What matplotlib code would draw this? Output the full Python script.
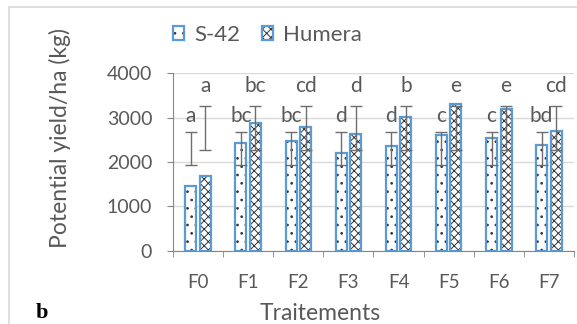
import numpy as np
import matplotlib
matplotlib.use("Agg")
import matplotlib.pyplot as plt
from matplotlib.patches import Rectangle

plt.rcParams['font.family'] = ['Lato', 'DejaVu Sans']
plt.rcParams['hatch.linewidth'] = 0.7

treatments = ['F0', 'F1', 'F2', 'F3', 'F4', 'F5', 'F6', 'F7']
s42 = [1455, 2436, 2466, 2210, 2353, 2602, 2541, 2376]
humera = [1681, 2880, 2790, 2624, 3017, 3318, 3205, 2692]

# error bars in the original sit at the same place for every group
s42_err_lo = [1923] * 8
s42_err_hi = [2677] * 8
humera_err_lo = [2262] * 8
humera_err_hi = [3265] * 8

s42_letters = ['a', 'bc', 'bc', 'd', 'd', 'c', 'c', 'bd']
humera_letters = ['a', 'bc', 'cd', 'd', 'b', 'e', 'e', 'cd']

BLUE = '#5B9BD5'
GREY = '#595959'

fig = plt.figure(figsize=(5.77, 3.24), dpi=100)
ax = fig.add_axes([0.2998, 0.2263, 0.695, 0.5475])

x = np.arange(len(treatments))
w = 0.22
off = 0.145

# hatch drawn in dark grey, blue outline drawn on top
h1 = ax.bar(x - off, s42, w, color='white', edgecolor='#333333', linewidth=0,
            hatch='..', zorder=3)
e1 = ax.bar(x - off, s42, w, fill=False, edgecolor=BLUE, linewidth=1.6, zorder=3.5)
h2 = ax.bar(x + off, humera, w, color='white', edgecolor='#333333', linewidth=0,
            hatch='xxxx', zorder=3)
e2 = ax.bar(x + off, humera, w, fill=False, edgecolor=BLUE, linewidth=1.6, zorder=3.5)

for xs, lo, hi, letters, dy in [(x - off, s42_err_lo, s42_err_hi, s42_letters, 7.5),
                                (x + off, humera_err_lo, humera_err_hi, humera_letters, 10)]:
    lo = np.array(lo)
    hi = np.array(hi)
    mid = (lo + hi) / 2
    ax.errorbar(xs, mid, yerr=(hi - lo) / 2, fmt='none', ecolor='#6E6E6E',
                elinewidth=1, capsize=4, capthick=1, zorder=4)
    for xi, top, lab in zip(xs, hi, letters):
        ax.annotate(lab, (xi, top), xytext=(0, dy), textcoords='offset points',
                    ha='center', va='baseline', fontsize=15, color=GREY)

ax.set_xlim(-0.5, len(treatments) - 0.5)
ax.set_ylim(0, 4000)
ax.set_yticks([0, 1000, 2000, 3000, 4000])
ax.set_xticks(x)
ax.set_xticklabels(treatments)
ax.set_xticks(np.arange(-0.5, len(treatments)), minor=True)
ax.tick_params(axis='x', which='major', length=0, pad=16.5, labelsize=13.5, labelcolor=GREY)
ax.tick_params(axis='x', which='minor', length=4.5, color='#868686', direction='out')
ax.tick_params(axis='y', length=4.5, color='#868686', labelsize=14, labelcolor=GREY, pad=10.5)

ax.grid(axis='y', color='#D9D9D9', linewidth=1, zorder=0)
for s in ['top', 'right']:
    ax.spines[s].set_visible(False)
for s in ['left', 'bottom']:
    ax.spines[s].set_color('#868686')

# axis titles sit where the original put them, not centred on the axes
fig.text(320 / 577, 1 - 320 / 324, 'Traitements', fontsize=16.5, color=GREY,
         ha='center', va='baseline')
fig.text(0.104, 0.5756, 'Potential yield/ha (kg)', rotation=90, fontsize=16.5,
         color=GREY, ha='center', va='center')

ax.legend([(h1, e1), (h2, e2)], ['S-42', 'Humera'], loc='center left',
          bbox_to_anchor=(0.0, 1.2166), ncol=2, frameon=False,
          fontsize=16, handlelength=0.5, handleheight=0.55, handletextpad=0.45,
          columnspacing=1.0, labelcolor=GREY, borderaxespad=0, borderpad=0)

fig.text(0.0728, 1 - 322.5 / 324, 'b', fontsize=16, fontweight='bold',
         family='Liberation Serif', ha='center', va='bottom')

fig.patches.append(Rectangle((9 / 577, -0.1), 1.2, 1.1 - 7 / 324,
                             transform=fig.transFigure, fill=False,
                             edgecolor='#D9D9D9', linewidth=1.2))

fig.savefig('out.png', dpi=100)
